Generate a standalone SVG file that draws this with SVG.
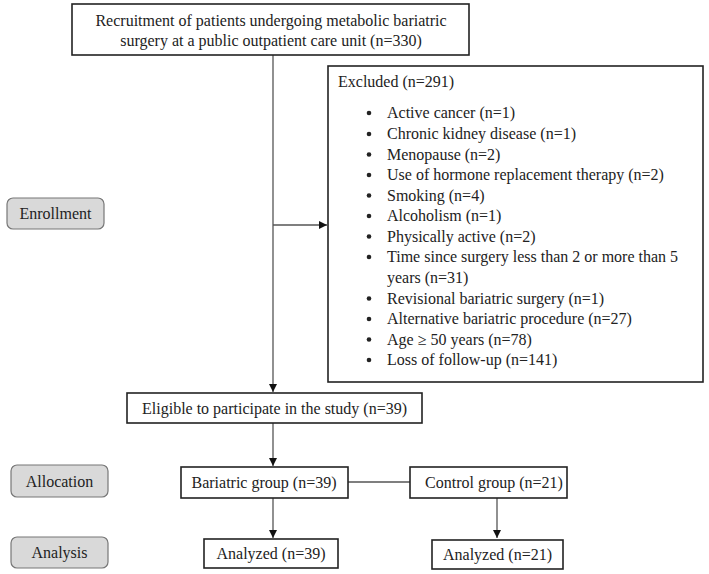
<svg xmlns="http://www.w3.org/2000/svg" width="709" height="574" viewBox="0 0 709 574">
<style>
text{font-family:"Liberation Serif","Times New Roman",serif;font-size:16px;fill:#222}
.box{fill:#fff;stroke:#222;stroke-width:1.6}
.stage{fill:#d9d9d9;stroke:#777;stroke-width:1.2}
.ln{stroke:#555;stroke-width:1.3;fill:none}
.mid{text-anchor:middle}
.bul{fill:#222}
</style>
<defs>
<marker id="ah" markerWidth="10" markerHeight="10" refX="9" refY="5" orient="auto" markerUnits="userSpaceOnUse">
<path d="M1,1 L9,5 L1,9 Z" fill="#111"/>
</marker>
</defs>
<rect width="709" height="574" fill="#fff"/>
<g id="connectors">
<line class="ln" x1="273" y1="55" x2="273" y2="392" marker-end="url(#ah)"/>
<line class="ln" x1="273" y1="225" x2="327" y2="225" marker-end="url(#ah)"/>
<line class="ln" x1="273" y1="423" x2="273" y2="466" marker-end="url(#ah)"/>
<line class="ln" x1="348" y1="482" x2="410" y2="482"/>
<line class="ln" x1="273" y1="498" x2="273" y2="538" marker-end="url(#ah)"/>
<line class="ln" x1="497" y1="498" x2="497" y2="538" marker-end="url(#ah)"/>
</g>
<g id="recruitment">
<rect class="box" x="72" y="4" width="397" height="51"/>
<text class="mid" x="271" y="26">Recruitment of patients undergoing metabolic bariatric</text>
<text class="mid" x="271" y="46">surgery at a public outpatient care unit (n=330)</text>
</g>
<g id="excluded">
<rect class="box" x="328" y="66" width="375" height="316"/>
<text x="338" y="87">Excluded (n=291)</text>
<g class="bul">
<circle cx="369" cy="113" r="2.3"/>
<circle cx="369" cy="134" r="2.3"/>
<circle cx="369" cy="154.5" r="2.3"/>
<circle cx="369" cy="175" r="2.3"/>
<circle cx="369" cy="195.5" r="2.3"/>
<circle cx="369" cy="216" r="2.3"/>
<circle cx="369" cy="236.5" r="2.3"/>
<circle cx="369" cy="257" r="2.3"/>
<circle cx="369" cy="298.5" r="2.3"/>
<circle cx="369" cy="319" r="2.3"/>
<circle cx="369" cy="339.5" r="2.3"/>
<circle cx="369" cy="360" r="2.3"/>
</g>
<text x="387" y="118">Active cancer (n=1)</text>
<text x="387" y="139">Chronic kidney disease (n=1)</text>
<text x="387" y="159.5">Menopause (n=2)</text>
<text x="387" y="180">Use of hormone replacement therapy (n=2)</text>
<text x="387" y="200.5">Smoking (n=4)</text>
<text x="387" y="221">Alcoholism (n=1)</text>
<text x="387" y="241.5">Physically active (n=2)</text>
<text x="387" y="262">Time since surgery less than 2 or more than 5</text>
<text x="387" y="283">years (n=31)</text>
<text x="387" y="303.5">Revisional bariatric surgery (n=1)</text>
<text x="387" y="324">Alternative bariatric procedure (n=27)</text>
<text x="387" y="344.5">Age ≥ 50 years (n=78)</text>
<text x="387" y="365">Loss of follow-up (n=141)</text>
</g>
<g id="enrollment">
<rect class="stage" x="7" y="198" width="97" height="31" rx="6"/>
<text class="mid" x="55.5" y="219">Enrollment</text>
</g>
<g id="eligible">
<rect class="box" x="127" y="393" width="295" height="30"/>
<text class="mid" x="274.5" y="414">Eligible to participate in the study (n=39)</text>
</g>
<g id="allocation">
<rect class="stage" x="11" y="465" width="97" height="32" rx="6"/>
<text class="mid" x="59.5" y="487">Allocation</text>
</g>
<g id="bariatric">
<rect class="box" x="181" y="467" width="167" height="31"/>
<text class="mid" x="264" y="488">Bariatric group (n=39)</text>
</g>
<g id="control">
<rect class="box" x="410" y="467" width="157" height="31"/>
<text class="mid" x="494" y="488">Control group (n=21)</text>
</g>
<g id="analysis">
<rect class="stage" x="11" y="537" width="97" height="31" rx="6"/>
<text class="mid" x="59.5" y="558">Analysis</text>
</g>
<g id="analyzed-bariatric">
<rect class="box" x="204" y="539" width="134" height="29"/>
<text class="mid" x="271" y="559">Analyzed (n=39)</text>
</g>
<g id="analyzed-control">
<rect class="box" x="432" y="540" width="131" height="29"/>
<text class="mid" x="497.5" y="560">Analyzed (n=21)</text>
</g>
</svg>
